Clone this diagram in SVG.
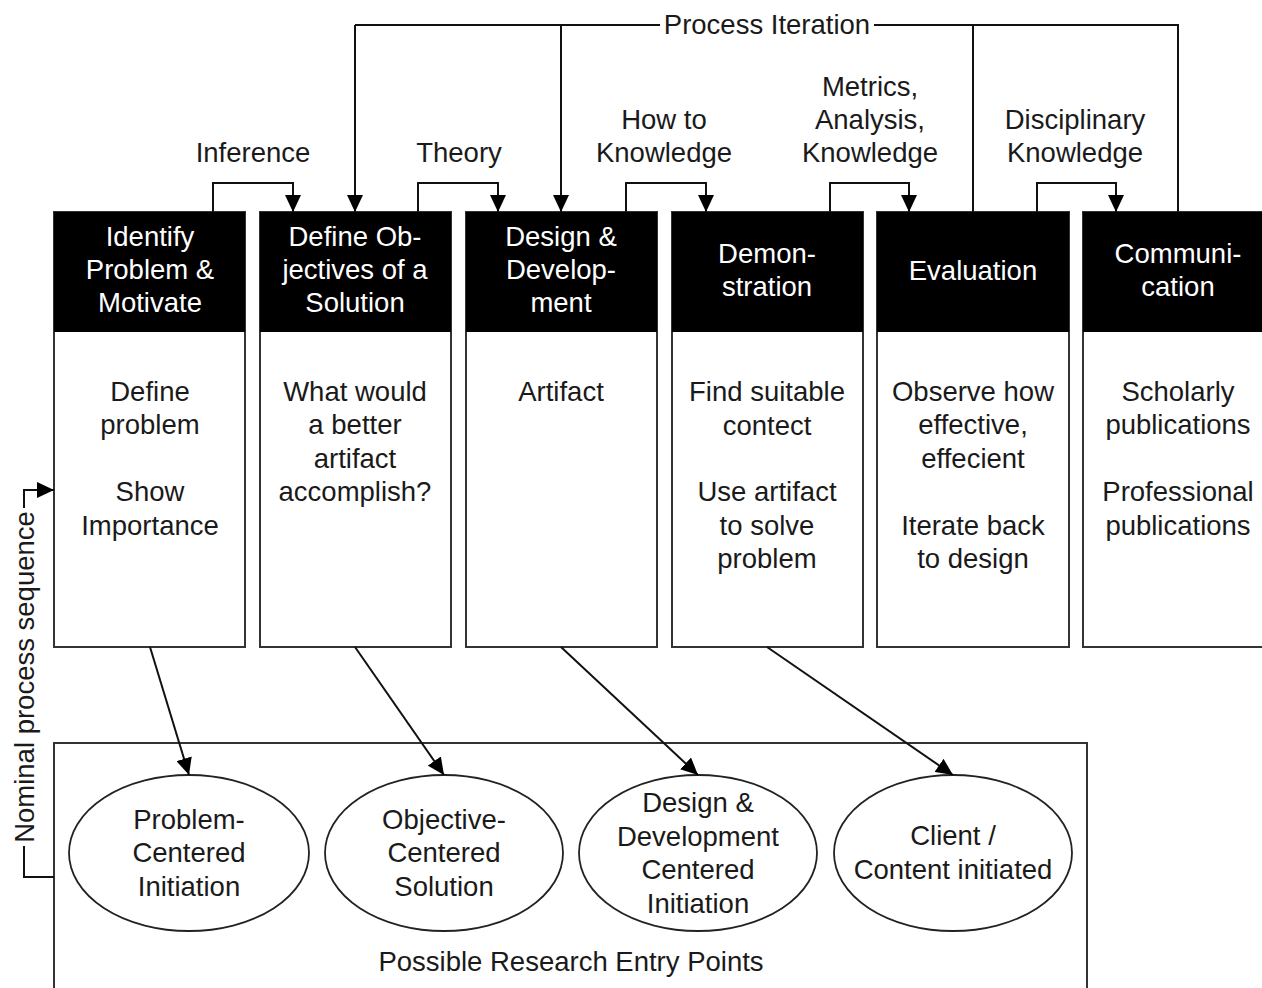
<svg xmlns="http://www.w3.org/2000/svg" width="1262" height="988" viewBox="0 0 1262 988">
<style>
text{font-family:"Liberation Sans",Arial,sans-serif;font-size:27.5px;fill:#1a1a1a;text-anchor:middle}
.hd{fill:#fff}
.box{fill:#fff;stroke:#333;stroke-width:2}
.hdr{fill:#000}
.ln{fill:none;stroke:#111;stroke-width:2}
.ell{fill:#fff;stroke:#222;stroke-width:1.8}
</style>
<defs>
<marker id="ah" viewBox="0 0 17 16" refX="17" refY="8" markerWidth="17" markerHeight="16" markerUnits="userSpaceOnUse" orient="auto">
<path d="M0,0 L17,8 L0,16 z" fill="#000"/>
</marker>
</defs>
<rect width="1262" height="988" fill="#fff"/>

<g id="entry-points">
<rect class="box" x="54" y="743" width="1033" height="260"/>
<text x="571" y="971">Possible Research Entry Points</text>
</g>

<g id="n1">
<rect class="box" x="54" y="212" width="191" height="435"/>
<rect class="hdr" x="54" y="212" width="191" height="120"/>
<text class="hd" x="150" y="246">Identify</text>
<text class="hd" x="150" y="279">Problem &amp;</text>
<text class="hd" x="150" y="312">Motivate</text>
<text x="150" y="401">Define</text>
<text x="150" y="434">problem</text>
<text x="150" y="501">Show</text>
<text x="150" y="535">Importance</text>
</g>
<g id="n2">
<rect class="box" x="260" y="212" width="191" height="435"/>
<rect class="hdr" x="260" y="212" width="191" height="120"/>
<text class="hd" x="355" y="246">Define Ob-</text>
<text class="hd" x="355" y="279">jectives of a</text>
<text class="hd" x="355" y="312">Solution</text>
<text x="355" y="401">What would</text>
<text x="355" y="434">a better</text>
<text x="355" y="468">artifact</text>
<text x="355" y="501">accomplish?</text>
</g>
<g id="n3">
<rect class="box" x="466" y="212" width="191" height="435"/>
<rect class="hdr" x="466" y="212" width="191" height="120"/>
<text class="hd" x="561" y="246">Design &amp;</text>
<text class="hd" x="561" y="279">Develop-</text>
<text class="hd" x="561" y="312">ment</text>
<text x="561" y="401">Artifact</text>
</g>
<g id="n4">
<rect class="box" x="672" y="212" width="191" height="435"/>
<rect class="hdr" x="672" y="212" width="191" height="120"/>
<text class="hd" x="767" y="263">Demon-</text>
<text class="hd" x="767" y="296">stration</text>
<text x="767" y="401">Find suitable</text>
<text x="767" y="435">contect</text>
<text x="767" y="501">Use artifact</text>
<text x="767" y="535">to solve</text>
<text x="767" y="568">problem</text>
</g>
<g id="n5">
<rect class="box" x="877" y="212" width="192" height="435"/>
<rect class="hdr" x="877" y="212" width="192" height="120"/>
<text class="hd" x="973" y="280">Evaluation</text>
<text x="973" y="401">Observe how</text>
<text x="973" y="434">effective,</text>
<text x="973" y="468">effecient</text>
<text x="973" y="535">Iterate back</text>
<text x="973" y="568">to design</text>
</g>
<g id="n6">
<rect class="box" x="1083" y="212" width="192" height="435"/>
<rect class="hdr" x="1083" y="212" width="192" height="120"/>
<text class="hd" x="1178" y="263">Communi-</text>
<text class="hd" x="1178" y="296">cation</text>
<text x="1178" y="401">Scholarly</text>
<text x="1178" y="434">publications</text>
<text x="1178" y="501">Professional</text>
<text x="1178" y="535">publications</text>
</g>

<g id="e1"><ellipse class="ell" cx="189" cy="853" rx="120" ry="78"/>
<text x="189" y="829">Problem-</text><text x="189" y="862">Centered</text><text x="189" y="896">Initiation</text></g>
<g id="e2"><ellipse class="ell" cx="444" cy="853" rx="119" ry="78"/>
<text x="444" y="829">Objective-</text><text x="444" y="862">Centered</text><text x="444" y="896">Solution</text></g>
<g id="e3"><ellipse class="ell" cx="698" cy="853" rx="119" ry="78"/>
<text x="698" y="812">Design &amp;</text><text x="698" y="846">Development</text><text x="698" y="879">Centered</text><text x="698" y="913">Initiation</text></g>
<g id="e4"><ellipse class="ell" cx="953" cy="853" rx="119" ry="78"/>
<text x="953" y="845">Client /</text><text x="953" y="879">Content initiated</text></g>

<g id="connectors">
<path class="ln" d="M355,25 H660 M874,25 H1178 V212 M973,25 V212"/>
<path class="ln" d="M355,25 V212" marker-end="url(#ah)"/>
<path class="ln" d="M561,25 V212" marker-end="url(#ah)"/>
<text x="767" y="34">Process Iteration</text>

<path class="ln" d="M213,212 V183 H293 V212" marker-end="url(#ah)"/>
<path class="ln" d="M418,212 V183 H498 V212" marker-end="url(#ah)"/>
<path class="ln" d="M626,212 V183 H706 V212" marker-end="url(#ah)"/>
<path class="ln" d="M830,212 V183 H909 V212" marker-end="url(#ah)"/>
<path class="ln" d="M1037,212 V183 H1116 V212" marker-end="url(#ah)"/>
<text x="253" y="162">Inference</text>
<text x="459" y="162">Theory</text>
<text x="664" y="129">How to</text>
<text x="664" y="162">Knowledge</text>
<text x="870" y="96">Metrics,</text>
<text x="870" y="129">Analysis,</text>
<text x="870" y="162">Knowledge</text>
<text x="1075" y="129">Disciplinary</text>
<text x="1075" y="162">Knowledge</text>

<path class="ln" d="M150,647 L189,775" marker-end="url(#ah)"/>
<path class="ln" d="M355,647 L444,775" marker-end="url(#ah)"/>
<path class="ln" d="M561,647 L698,775" marker-end="url(#ah)"/>
<path class="ln" d="M767,647 L953,775" marker-end="url(#ah)"/>

<path class="ln" d="M24,508 V490 H54" marker-end="url(#ah)"/>
<path class="ln" d="M24,846 V877 H54"/>
<text transform="translate(34,677) rotate(-90)">Nominal process sequence</text>
</g>
</svg>
